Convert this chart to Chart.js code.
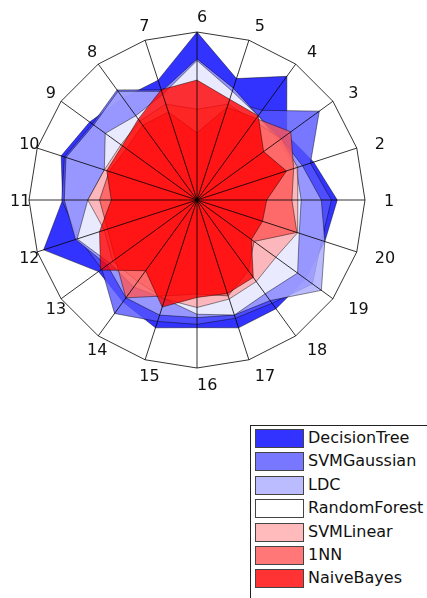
<!DOCTYPE html>
<html>
<head>
<meta charset="utf-8">
<script src="https://cdn.jsdelivr.net/npm/chart.js@4/dist/chart.umd.min.js"></script>
<style>
  html, body { margin: 0; padding: 0; background: #fff; overflow: hidden; }
  body { width: 427px; height: 598px; position: relative; font-family: 'DejaVu Sans', sans-serif; }
  #wrap { position: absolute; left: 0; top: 0; width: 427px; height: 400px; }
  #legend { position: absolute; left: 250px; top: 425px; width: 200px; height: 200px;
            border: 1px solid #222; box-sizing: border-box; }
  .item { position: absolute; left: 4px; height: 18px; }
  .sw { position: absolute; left: 0; top: 0; width: 47px; height: 17px; border: 1px solid #444; }
  .lbl { position: absolute; left: 53px; top: -1px; font-size: 16px; color: #111; white-space: nowrap; line-height: 19px; }
</style>
</head>
<body>
<div id="wrap"><canvas id="radar"></canvas></div>
<div id="legend"></div>
<script>
// spokes 1..20, counter-clockwise starting at the right
const labels = ['1','2','3','4','5','6','7','8','9','10','11','12','13','14','15','16','17','18','19','20'];

const decisionTree = [0.835,0.73,0.66,0.91,0.76,1.00,0.75,0.75,0.79,0.85,0.80,0.96,0.725,0.75,0.80,0.76,0.80,0.80,0.80,0.80];
const svmGaussian  = [0.80,0.71,0.90,0.66,0.62,0.72,0.69,0.81,0.77,0.83,0.805,0.74,0.70,0.835,0.76,0.74,0.74,0.76,0.85,0.78];
const ldc          = [0.74,0.66,0.62,0.62,0.70,0.84,0.68,0.80,0.76,0.82,0.79,0.76,0.66,0.72,0.72,0.70,0.72,0.74,0.915,0.80];
const randomForest = [0.62,0.62,0.60,0.62,0.68,0.83,0.66,0.62,0.675,0.58,0.65,0.75,0.64,0.64,0.62,0.68,0.72,0.69,0.74,0.64];
const svmLinear    = [0.60,0.63,0.62,0.58,0.60,0.54,0.60,0.58,0.56,0.58,0.65,0.58,0.62,0.60,0.62,0.64,0.62,0.60,0.58,0.63];
const oneNN        = [0.565,0.605,0.69,0.60,0.58,0.40,0.55,0.55,0.52,0.55,0.58,0.56,0.60,0.72,0.60,0.56,0.60,0.52,0.42,0.625];
const naiveBayes   = [0.415,0.56,0.49,0.62,0.63,0.714,0.69,0.595,0.55,0.565,0.51,0.61,0.71,0.52,0.67,0.58,0.585,0.57,0.40,0.41];

const seriesNames = ['DecisionTree','SVMGaussian','LDC','RandomForest','SVMLinear','1NN','NaiveBayes'];
const seriesData  = [decisionTree, svmGaussian, ldc, randomForest, svmLinear, oneNN, naiveBayes];
const seriesColors = [
    'rgba(0, 0, 255, 0.8)',
    'rgba(85, 85, 255, 0.8)',
    'rgba(170, 170, 255, 0.8)',
    'rgba(255, 255, 255, 0.8)',
    'rgba(255, 170, 170, 0.8)',
    'rgba(255, 85, 85, 0.8)',
    'rgba(255, 0, 0, 0.8)'
];

// chart.js goes clockwise from the top, so start at spoke 6
const spokeOrder = [6,5,4,3,2,1,20,19,18,17,16,15,14,13,12,11,10,9,8,7];
function reorder(arr) {
    return spokeOrder.map(k => arr[k - 1]);
}

const datasets = seriesNames.map((name, i) => ({
    label: name,
    data: reorder(seriesData[i]),
    backgroundColor: seriesColors[i],
    borderColor: 'rgba(0,0,0,0.75)',
    borderWidth: 0.6,
    pointRadius: 0,
    fill: true,
    order: seriesNames.length - i   // NaiveBayes on top
}));

// spoke labels are left-aligned just outside the rim, like the original figure
const spokeLabels = {
    id: 'spokeLabels',
    afterDraw(chart) {
        const scale = chart.scales.r;
        const ctx = chart.ctx;
        const R = scale.drawingArea;
        ctx.save();
        ctx.font = '16px "DejaVu Sans"';
        ctx.fillStyle = '#111';
        ctx.textAlign = 'left';
        ctx.textBaseline = 'alphabetic';
        chart.data.labels.forEach((txt, i) => {
            const px = scale.getPointPosition(i, R * 1.113).x;
            const py = scale.getPointPosition(i, R * 1.098).y;
            ctx.fillText(txt, px, py + 6);
        });
        ctx.restore();
    }
};

const chart = new Chart(document.getElementById('radar'), {
    type: 'radar',
    data: {
        labels: reorder(labels),
        datasets: datasets
    },
    options: {
        responsive: true,
        maintainAspectRatio: false,
        animation: false,
        layout: { padding: { left: 29, right: 62, top: 32, bottom: 32 } },
        elements: { line: { tension: 0 } },
        scales: {
            r: {
                min: 0,
                max: 1,
                ticks: { display: false, stepSize: 1 },
                grid: { color: '#000', lineWidth: 0.8, circular: false, z: 1 },
                angleLines: { color: '#000', lineWidth: 0.8 },
                pointLabels: { display: false }
            }
        },
        plugins: {
            legend: { display: false },
            tooltip: { enabled: false }
        }
    },
    plugins: [spokeLabels]
});

// boxed legend below the chart
const legend = document.getElementById('legend');
seriesNames.forEach((name, i) => {
    const item = document.createElement('div');
    item.className = 'item';
    item.style.top = (3 + i * 23.4) + 'px';
    const sw = document.createElement('div');
    sw.className = 'sw';
    sw.style.background = seriesColors[i];
    const lbl = document.createElement('div');
    lbl.className = 'lbl';
    lbl.textContent = name;
    item.appendChild(sw);
    item.appendChild(lbl);
    legend.appendChild(item);
});
</script>
</body>
</html>
